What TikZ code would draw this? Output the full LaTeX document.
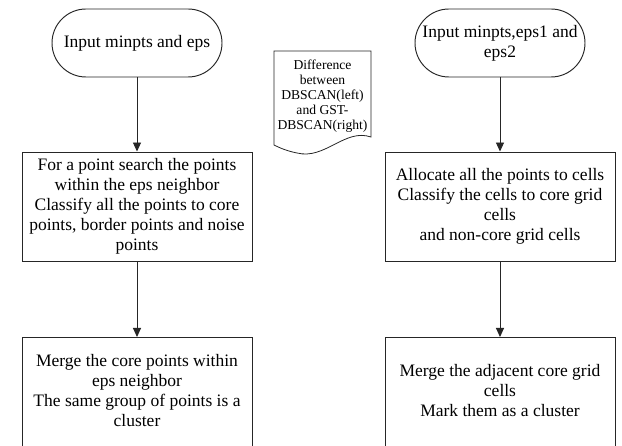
\documentclass[tikz,border=0pt]{standalone}
\usepackage{fontspec}
\setmainfont{Liberation Serif}
\usetikzlibrary{arrows.meta}
\begin{document}
\begin{tikzpicture}[x=1pt,y=-1pt,
  ln/.style={draw=black!85, line width=0.95pt},
  txt/.style={font=\fontsize{17.5}{20}\selectfont, align=center, inner sep=0pt},
  small/.style={font=\fontsize{13.6}{15}\selectfont, align=center, inner sep=0pt},
  arr/.style={ln, -{Triangle[width=8pt,length=9pt]}},
  box/.style={ln, rectangle, minimum width=230pt, inner sep=0pt, align=center, font=\fontsize{17.5}{20}\selectfont},
  term/.style={ln, rectangle, rounded corners=34pt, inner sep=0pt, align=center, font=\fontsize{17.5}{20}\selectfont}
]
\useasboundingbox (0,0) rectangle (622,446);
\clip (0,0) rectangle (622,446);
\fill[white] (0,0) rectangle (622,446);

% left column
\node[term, minimum width=170pt, minimum height=68pt] (lt) at (137,43) {Input minpts and eps};
\node[box, minimum height=109pt] (lb1) at (137,206.5) {For a point search the points\\within the eps neighbor\\Classify all the points to core\\points, border points and noise\\points};
\draw[ln] (22,337) rectangle (252,450);
\coordinate (lb2) at (137,337);
\node[txt] (lb2t) at (137,391) {Merge the core points within\\eps neighbor\\The same group of points is a\\cluster};

% right column
\node[term, minimum width=170pt, minimum height=68pt] (rt) at (500,43) {Input minpts,eps1 and\\eps2};
\node[box, minimum height=109pt] (rb1) at (500,206.5) {Allocate all the points to cells\\Classify the cells to core grid\\cells\\and non-core grid cells};
\draw[ln] (385,337) rectangle (615,450);
\coordinate (rb2) at (500,337);
\node[txt] (rb2t) at (500,391) {Merge the adjacent core grid\\cells\\Mark them as a cluster};

% arrows
\draw[arr] (lt.south) -- (lb1.north);
\draw[arr] (lb1.south) -- (lb2);
\draw[arr] (rt.south) -- (rb1.north);
\draw[arr] (rb1.south) -- (rb2);

% document shape
\draw[ln, line width=0.8pt] (274,51) -- (371,51) -- (371,137)
  .. controls (345,128) and (325,160) .. (297,153)
  .. controls (287,151) and (280,148) .. (274,145) -- cycle;
\node[small] (doc) at (322.5,96) {Difference\\between\\DBSCAN(left)\\and GST-\\DBSCAN(right)};
\end{tikzpicture}
\end{document}
